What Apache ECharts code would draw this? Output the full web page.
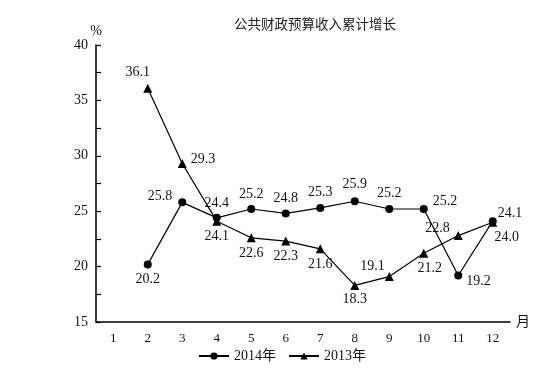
<!DOCTYPE html>
<html><head><meta charset="utf-8">
<script src="https://cdn.jsdelivr.net/npm/echarts@6/dist/echarts.min.js"></script>
<style>html,body{margin:0;padding:0;background:#fff}#c{width:553px;height:391px}</style>
</head><body><div id="c"></div>
<script>
const months = ['1','2','3','4','5','6','7','8','9','10','11','12'];
const v2014 = [null, 20.2, 25.8, 24.4, 25.2, 24.8, 25.3, 25.9, 25.2, 25.2, 19.2, 24.1];
const v2013 = [null, 36.1, 29.3, 24.1, 22.6, 22.3, 21.6, 18.3, 19.1, 21.2, 22.8, 24.0];
const pos2014 = [null,'bottom','left','top','top','top','top','top','top','right','right','right'];
const pos2013 = [null,'top','right','bottom','bottom','bottom','bottom','bottom','left','bottom','left','bottom'];
const off2014 = [null,[0,0],[-2,-6],[0,0],[0,0],[0,0],[0,-1],[0,-2],[0,-1],[1,-8],[0,6],[-3,-8]];
const off2013 = [null,[-10,0],[0,-4],[0,0],[0,0],[0,0],[0,0],[0,-2],[4,-10],[6,0],[0,-7],[14,0]];
const FONT = '"Liberation Serif","Noto Sans CJK SC",serif';

function build(vals, pos, off){
  return vals.map((v,i)=> v===null ? null : {value:v, label:{position:pos[i], offset:off[i]}});
}
const chart = echarts.init(document.getElementById('c'));
chart.setOption({
  animation:false,
  backgroundColor:'#fff',
  title:{text:'公共财政预算收入累计增长', left:310, textAlign:'center', top:14,
    textStyle:{fontFamily:FONT, fontSize:13.5, fontWeight:'normal', color:'#222'}},
  legend:{top:344, left:193, itemGap:12, itemWidth:30, itemHeight:9,
    textStyle:{fontFamily:FONT, fontSize:14, color:'#111'},
    data:['2014年','2013年']},
  grid:{left:96, right:43, top:45, bottom:69},
  xAxis:{type:'category', data:months, boundaryGap:true,
    name:'月', nameGap:6, nameTextStyle:{fontFamily:FONT, fontSize:14, color:'#111', verticalAlign:'middle'},
    axisLine:{lineStyle:{color:'#000', width:1.5}},
    axisTick:{inside:true, length:5, lineStyle:{color:'#000', width:1.2}},
    axisLabel:{fontFamily:FONT, fontSize:13, color:'#111', margin:10}},
  yAxis:{type:'value', min:15, max:40, interval:2.5,
    name:'%', nameGap:6, nameLocation:'end', nameTextStyle:{fontFamily:FONT, fontSize:14, color:'#111', align:'center'},
    axisLine:{show:true, lineStyle:{color:'#000', width:1.5}},
    axisTick:{show:true, inside:true, length:5, lineStyle:{color:'#000', width:1.2}},
    splitLine:{show:false},
    axisLabel:{fontFamily:FONT, fontSize:14, color:'#111', margin:8,
      formatter:v=> (v%5===0 ? String(v) : '')}},
  series:[
    {name:'2014年', type:'line', data:build(v2014,pos2014,off2014), symbol:'circle', symbolSize:8,
      lineStyle:{color:'#000', width:1.2}, itemStyle:{color:'#000'},
      label:{show:true, fontFamily:FONT, fontSize:14, color:'#111', distance:4, formatter:p=>p.value.toFixed(1)}},
    {name:'2013年', type:'line', data:build(v2013,pos2013,off2013), symbol:'triangle', symbolSize:9,
      lineStyle:{color:'#000', width:1.2}, itemStyle:{color:'#000'},
      label:{show:true, fontFamily:FONT, fontSize:14, color:'#111', distance:4, formatter:p=>p.value.toFixed(1)}}
  ]
});
</script></body></html>
